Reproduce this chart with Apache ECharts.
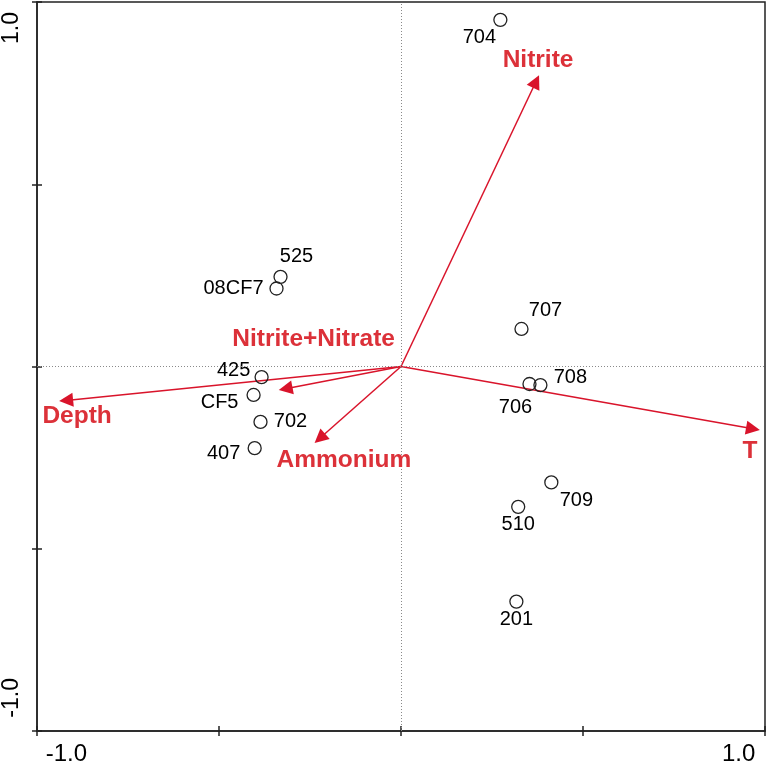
<!DOCTYPE html>
<html lang="en">
<head>
  <meta charset="utf-8">
  <title>RDA biplot</title>
  <script src="https://cdn.jsdelivr.net/npm/echarts@6.0.0/dist/echarts.min.js"></script>
  <style>
    html, body { margin: 0; padding: 0; background: #fff; }
    #chart { width: 767px; height: 767px; }
  </style>
</head>
<body>
<div id="chart"></div>
<script>
  // samples (site scores)
  const sampleNames = ['704', '525', '08CF7', '707', '425', 'CF5', '702', '407', '706', '708', '709', '510', '201'];
  const sampleX = [0.273, -0.331, -0.342, 0.331, -0.383, -0.405, -0.386, -0.402, 0.353, 0.383, 0.413, 0.322, 0.317];
  const sampleY = [0.951, 0.246, 0.214, 0.103, -0.029, -0.078, -0.152, -0.224, -0.048, -0.051, -0.318, -0.385, -0.645];

  // environmental variables (arrow ends, at the middle of the arrowhead)
  const varNames = ['Nitrite', 'Nitrite+Nitrate', 'Depth', 'Ammonium', 'T'];
  const varX = [0.371, -0.317, -0.920, -0.223, 0.967];
  const varY = [0.782, -0.061, -0.093, -0.197, -0.171];

  // label placement (px offsets from the mark)
  const sampleLabelOffset = {
    '704': [-21, 18], '525': [16, -20], '08CF7': [-43, 0], '707': [24, -18],
    '425': [-28, -7], 'CF5': [-34, 8], '702': [30, 0], '407': [-31, 5],
    '706': [-14, 23], '708': [30, -8], '709': [25, 18], '510': [0, 18], '201': [0, 18]
  };
  const varLabelOffset = {
    'Nitrite': [2, -21], 'Nitrite+Nitrate': [28, -49], 'Depth': [11, 16],
    'Ammonium': [24, 22], 'T': [-3, 22]
  };

  const FONT = 'Liberation Sans, Arial, sans-serif';
  const RED = '#d9142b';
  const RED_TEXT = '#dc3139';
  const AXIS = { color: '#222', width: 1.5 };

  const chart = echarts.init(document.getElementById('chart'));

  const baseAxis = {
    type: 'value', min: -1, max: 1, interval: 0.5,
    splitLine: { show: false }
  };

  const option = {
    animation: false,
    grid: { left: 36, top: 2, right: 2, bottom: 36, show: true, borderColor: '#222', borderWidth: 1.5 },
    xAxis: [
      Object.assign({}, baseAxis, {
        position: 'bottom',
        axisLine: { onZero: false, lineStyle: AXIS },
        axisTick: { length: 5, lineStyle: AXIS },
        axisLabel: {
          margin: 11, color: '#000', fontFamily: FONT, fontSize: 24,
          formatter: function (v) {
            if (v === -1) return '{l|-1.0}';
            if (v === 1) return '{r|1.0}';
            return '';
          },
          rich: {
            l: { width: 100, align: 'right', fontSize: 24, fontFamily: FONT, color: '#000' },
            r: { width: 86, align: 'left', fontSize: 24, fontFamily: FONT, color: '#000' }
          }
        }
      }),
      Object.assign({}, baseAxis, {
        position: 'bottom',
        axisLine: { show: false, onZero: false },
        axisTick: { inside: true, length: 5, lineStyle: AXIS },
        axisLabel: { show: false }
      })
    ],
    yAxis: [
      Object.assign({}, baseAxis, {
        position: 'left',
        axisLine: { onZero: false, lineStyle: AXIS },
        axisTick: { length: 5, lineStyle: AXIS },
        axisLabel: {
          margin: 14, rotate: 90, color: '#000', fontFamily: FONT, fontSize: 23,
          formatter: function (v) {
            if (v === 1) return '{t|1.0}';
            if (v === -1) return '{b|-1.0}';
            return '';
          },
          rich: {
            t: { width: 84, align: 'left', fontSize: 23, fontFamily: FONT, color: '#000' },
            b: { width: 106, align: 'right', fontSize: 23, fontFamily: FONT, color: '#000' }
          }
        }
      }),
      Object.assign({}, baseAxis, {
        position: 'left',
        axisLine: { show: false, onZero: false },
        axisTick: { inside: true, length: 5, lineStyle: AXIS },
        axisLabel: { show: false }
      })
    ],
    series: [
      {
        type: 'lines',
        coordinateSystem: 'cartesian2d',
        xAxisIndex: 0, yAxisIndex: 0,
        symbol: ['none', 'triangle'],
        symbolSize: [10, 14],
        lineStyle: { color: RED, width: 1.5, opacity: 1, curveness: 0 },
        z: 3,
        data: varNames.map(function (n, i) {
          return { name: n, coords: [[0, 0], [varX[i], varY[i]]] };
        })
      },
      {
        type: 'scatter',
        xAxisIndex: 0, yAxisIndex: 0,
        symbol: 'circle',
        symbolSize: 13,
        itemStyle: { color: 'rgba(0,0,0,0)', borderColor: '#222', borderWidth: 1.3, opacity: 1 },
        label: {
          show: true, position: 'inside', color: '#000', fontFamily: FONT, fontSize: 20,
          textBorderWidth: 0, opacity: 1,
          formatter: function (p) { return p.name; }
        },
        z: 4,
        markLine: {
          silent: true,
          symbol: 'none',
          label: { show: false },
          lineStyle: { color: '#8a8a8a', type: [1, 2], width: 1 },
          data: [{ xAxis: 0 }, { yAxis: 0 }]
        },
        data: sampleNames.map(function (n, i) {
          return { name: n, value: [sampleX[i], sampleY[i]], label: { offset: sampleLabelOffset[n] } };
        })
      },
      {
        type: 'scatter',
        xAxisIndex: 0, yAxisIndex: 0,
        symbolSize: 1,
        itemStyle: { color: 'rgba(0,0,0,0)', opacity: 1 },
        label: {
          show: true, position: 'inside', color: RED_TEXT, fontFamily: FONT,
          fontSize: 24.5, fontWeight: 'bold', textBorderWidth: 0, opacity: 1,
          formatter: function (p) { return p.name; }
        },
        z: 5,
        data: varNames.map(function (n, i) {
          return { name: n, value: [varX[i], varY[i]], label: { offset: varLabelOffset[n] } };
        })
      }
    ]
  };

  chart.setOption(option);
</script>
</body>
</html>
